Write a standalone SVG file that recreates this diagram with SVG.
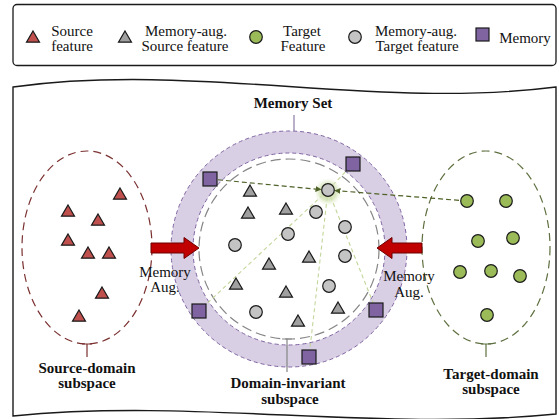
<svg xmlns="http://www.w3.org/2000/svg" xmlns:xlink="http://www.w3.org/1999/xlink" width="559" height="419" viewBox="0 0 559 419" font-family="'Liberation Serif', 'Times New Roman', Times, serif">
  <defs>
    <style>
      text { font-family: 'Liberation Serif', 'Times New Roman', Times, serif; fill: #111; }
      .lg { font-size: 15px; text-anchor: middle; }
      .lbl { font-size: 15px; font-weight: bold; text-anchor: middle; }
      .aug { font-size: 15px; text-anchor: middle; }
      .src { fill: #c0504d; stroke: #1a1a1a; stroke-width: 1.2; }
      .msrc { fill: #a0a0a0; stroke: #1a1a1a; stroke-width: 1.2; }
      .tgt { fill: #9bbb59; stroke: #1a1a1a; stroke-width: 1.2; }
      .mtgt { fill: #c4c4c4; stroke: #1a1a1a; stroke-width: 1.2; }
      .mem { fill: #8064a2; stroke: #1a1a1a; stroke-width: 1.2; }
      .darrow { fill: #c00000; stroke: #6e0000; stroke-width: 1; }
      .link { fill: none; stroke: #4f6228; stroke-width: 1.2; stroke-dasharray: 5 3; }
      .attn { fill: none; stroke: #c3d69b; stroke-width: 1.1; stroke-dasharray: 4 3; }
    </style>
    <path id="tri" d="M0,-6 L6.5,5.2 L-6.5,5.2 Z"/>
    <radialGradient id="glow">
      <stop offset="0" stop-color="#c3d69b" stop-opacity="1"/>
      <stop offset="0.6" stop-color="#d3e2b4" stop-opacity="0.8"/>
      <stop offset="1" stop-color="#e8f0d8" stop-opacity="0"/>
    </radialGradient>
    <marker id="headG" viewBox="0 0 10 10" refX="10" refY="5" markerWidth="6" markerHeight="6" orient="auto" markerUnits="userSpaceOnUse">
      <path d="M0,0 L10,5 L0,10 Z" fill="#4f6228"/>
    </marker>
  </defs>

  <!-- legend -->
  <g id="legend">
    <rect x="13" y="4.5" width="543" height="61" rx="4" fill="#fff" stroke="#1a1a1a" stroke-width="1.3"/>
    <use href="#tri" x="33" y="37" class="src"/>
    <text class="lg" x="72" y="36">Source</text>
    <text class="lg" x="72" y="51">feature</text>
    <use href="#tri" x="125" y="37" class="msrc"/>
    <text class="lg" x="186" y="36">Memory-aug.</text>
    <text class="lg" x="185" y="51">Source feature</text>
    <circle cx="256" cy="37" r="6.3" class="tgt"/>
    <text class="lg" x="302" y="36">Target</text>
    <text class="lg" x="303" y="51">Feature</text>
    <circle cx="355" cy="37" r="6.3" class="mtgt"/>
    <text class="lg" x="416" y="36">Memory-aug.</text>
    <text class="lg" x="417" y="51">Target feature</text>
    <rect x="476" y="28" width="13" height="13" class="mem"/>
    <text class="lg" x="525" y="43">Memory</text>
  </g>

  <!-- wavy panel frame -->
  <path id="frame" d="M13,87 C195,62 375,110 556,87 L556,414 C375,432 195,398 13,416 Z" fill="#fff" stroke="#1a1a1a" stroke-width="1.4"/>

  <!-- memory set ring -->
  <g id="memory-set">
    <circle cx="289" cy="249" r="107" fill="none" stroke="#d8cfe4" stroke-width="22"/>
    <circle cx="289" cy="249" r="118" fill="none" stroke="#8064a2" stroke-width="1" stroke-dasharray="4 3"/>
    <circle cx="289" cy="249" r="96" fill="none" stroke="#8064a2" stroke-width="1" stroke-dasharray="4 3"/>
    <line x1="294" y1="115" x2="294" y2="131" stroke="#8a7ca4" stroke-width="1.2"/>
    <text class="lbl" x="293" y="108">Memory Set</text>
  </g>

  <!-- domain-invariant subspace -->
  <g id="domain-invariant">
    <circle cx="289" cy="249" r="90" fill="none" stroke="#858585" stroke-width="1.2" stroke-dasharray="10 5"/>
    <path d="M282,339 H292 M287,339 V372" fill="none" stroke="#858585" stroke-width="1.2"/>
    <text class="lbl" x="288" y="388">Domain-invariant</text>
    <text class="lbl" x="290" y="404">subspace</text>
  </g>

  <!-- source-domain subspace -->
  <g id="source-domain">
    <ellipse cx="87" cy="247.5" rx="65" ry="96.5" fill="none" stroke="#7b3030" stroke-width="1.2" stroke-dasharray="8 5"/>
    <path d="M82,344 H92 M87,344 V357" fill="none" stroke="#7b3030" stroke-width="1.2"/>
    <text class="lbl" x="87" y="373">Source-domain</text>
    <text class="lbl" x="87" y="388">subspace</text>
    <g class="src">
      <use href="#tri" x="120" y="194"/>
      <use href="#tri" x="68" y="211"/>
      <use href="#tri" x="98" y="220"/>
      <use href="#tri" x="68" y="240"/>
      <use href="#tri" x="88" y="253"/>
      <use href="#tri" x="109" y="253"/>
      <use href="#tri" x="102" y="293"/>
      <use href="#tri" x="79" y="316"/>
    </g>
  </g>

  <!-- target-domain subspace -->
  <g id="target-domain">
    <ellipse cx="486" cy="247.5" rx="64" ry="96.5" fill="none" stroke="#5f7040" stroke-width="1.2" stroke-dasharray="8 5"/>
    <path d="M481,344 H491 M486,344 V357" fill="none" stroke="#5f7040" stroke-width="1.2"/>
    <text class="lbl" x="491" y="379">Target-domain</text>
    <text class="lbl" x="491" y="394">subspace</text>
  </g>

  <!-- connectors -->
  <g id="connectors">
    <line class="attn" x1="328" y1="190" x2="353" y2="164"/>
    <line class="attn" x1="328" y1="190" x2="199" y2="311"/>
    <line class="attn" x1="328" y1="190" x2="309" y2="357"/>
    <line class="attn" x1="328" y1="190" x2="376" y2="310"/>
    <circle cx="328" cy="192" r="14" fill="url(#glow)"/>
    <line class="link" x1="210" y1="179" x2="321.5" y2="189.6" marker-end="url(#headG)"/>
    <line class="link" x1="467" y1="201" x2="334.5" y2="190.5" marker-end="url(#headG)"/>
    <polygon class="darrow" points="151,243 184,243 184,237.5 199,248 184,258.5 184,253 151,253"/>
    <polygon class="darrow" points="422,243 392,243 392,237.5 377,248 392,258.5 392,253 422,253"/>
    <text class="aug" x="165" y="277">Memory</text>
    <text class="aug" x="165" y="292">Aug.</text>
    <text class="aug" x="409" y="281">Memory</text>
    <text class="aug" x="409" y="297">Aug.</text>
  </g>

  <!-- memory slots -->
  <g id="memory-slots" class="mem">
    <rect x="203" y="172" width="14" height="14"/>
    <rect x="346" y="157" width="14" height="14"/>
    <rect x="192" y="304" width="14" height="14"/>
    <rect x="369" y="303" width="14" height="14"/>
    <rect x="302" y="350" width="14" height="14"/>
  </g>

  <!-- memory-augmented source features -->
  <g id="aug-source" class="msrc">
    <use href="#tri" x="250" y="191"/>
    <use href="#tri" x="248" y="213"/>
    <use href="#tri" x="286" y="209"/>
    <use href="#tri" x="269" y="264"/>
    <use href="#tri" x="309" y="257"/>
    <use href="#tri" x="236" y="284"/>
    <use href="#tri" x="286" y="292"/>
    <use href="#tri" x="338" y="308"/>
    <use href="#tri" x="298" y="321"/>
  </g>

  <!-- memory-augmented target features -->
  <g id="aug-target" class="mtgt">
    <circle cx="328" cy="190" r="6.3"/>
    <circle cx="316" cy="212" r="6.3"/>
    <circle cx="288" cy="234" r="6.3"/>
    <circle cx="345" cy="227" r="6.3"/>
    <circle cx="235" cy="245" r="6.3"/>
    <circle cx="345" cy="256" r="6.3"/>
    <circle cx="329" cy="286" r="6.3"/>
    <circle cx="256" cy="312" r="6.3"/>
  </g>

  <!-- target features -->
  <g id="target-features" class="tgt">
    <circle cx="467" cy="201" r="6.3"/>
    <circle cx="506" cy="201" r="6.3"/>
    <circle cx="478" cy="241" r="6.3"/>
    <circle cx="513" cy="238" r="6.3"/>
    <circle cx="460" cy="272" r="6.3"/>
    <circle cx="491" cy="271" r="6.3"/>
    <circle cx="520" cy="276" r="6.3"/>
    <circle cx="487" cy="315" r="6.3"/>
  </g>
</svg>
